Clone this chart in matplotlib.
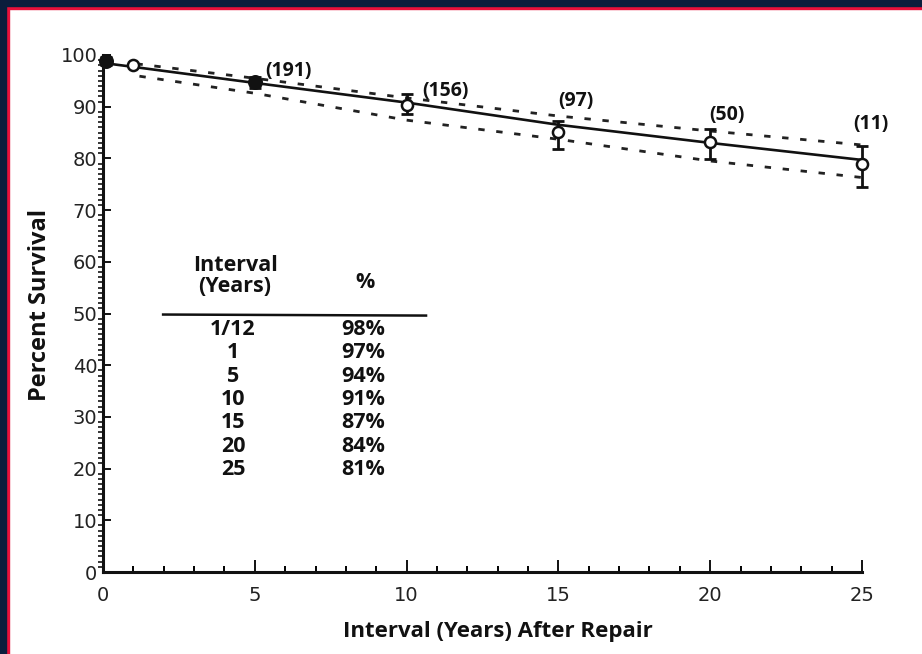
import matplotlib
matplotlib.use("Agg")
import matplotlib.pyplot as plt
from matplotlib.ticker import MultipleLocator
from matplotlib.patches import Rectangle

plt.rcParams['font.family'] = ['Open Sans', 'DejaVu Sans']

# ---- data ----
point_x = [1/12, 1, 5, 10, 15, 20, 25]
point_y = [98.8, 98.0, 94.7, 90.4, 85.2, 83.1, 78.9]
err_low = [0.8, 0.0, 1.0, 1.8, 3.4, 3.3, 4.5]
err_high = [0.8, 0.0, 1.0, 2.0, 2.0, 2.5, 3.5]
point_filled = [True, False, True, False, False, False, False]

fit_x = [1/12, 1, 5, 10, 15, 20, 25]
fit_y = [98.4, 97.7, 94.6, 90.8, 86.5, 83.0, 79.7]

upper_x = [1.1, 5, 10, 15, 20, 25]
upper_y = [98.3, 95.5, 91.7, 88.2, 85.3, 82.6]
lower_x = [1.2, 5, 10, 15, 20, 25]
lower_y = [95.9, 92.6, 87.4, 83.7, 79.5, 76.3]

count_x = [5, 10, 15, 20, 25]
count_labels = ["(191)", "(156)", "(97)", "(50)", "(11)"]

table_interval = ["1/12", "1", "5", "10", "15", "20", "25"]
table_percent = ["98%", "97%", "94%", "91%", "87%", "84%", "81%"]

x_ticks = [0, 5, 10, 15, 20, 25]
y_ticks = [0, 10, 20, 30, 40, 50, 60, 70, 80, 90, 100]

# ---- figure ----
W, H = 922, 654
fig = plt.figure(figsize=(W / 100, H / 100), dpi=100)
fig.patch.set_facecolor('white')

# frame: navy outer band and red inner line on top and left
navy = '#0b1d3c'
red = '#e8103a'
fig.patches.append(Rectangle((0, 0), 9 / W, 1, transform=fig.transFigure, color=red, zorder=0))
fig.patches.append(Rectangle((0, 1 - 9 / H), 1, 9 / H, transform=fig.transFigure, color=red, zorder=0))
fig.patches.append(Rectangle((0, 0), 6 / W, 1, transform=fig.transFigure, color=navy, zorder=1))
fig.patches.append(Rectangle((0, 1 - 6 / H), 1, 6 / H, transform=fig.transFigure, color=navy, zorder=1))

x0, x1 = 103, 862
y0, y1 = 572, 55
ax = fig.add_axes([x0 / W, (H - y0) / H, (x1 - x0) / W, (y0 - y1) / H])
ax.set_xlim(0, 25)
ax.set_ylim(0, 100)
ax.set_facecolor('none')
for s in ['top', 'right']:
    ax.spines[s].set_visible(False)
for s in ['left', 'bottom']:
    ax.spines[s].set_linewidth(2.2)
    ax.spines[s].set_color('#111111')

ax.set_xticks(x_ticks)
ax.set_yticks(y_ticks)
ax.xaxis.set_minor_locator(MultipleLocator(1))
ax.yaxis.set_minor_locator(MultipleLocator(1))
ax.tick_params(axis='x', which='major', direction='in', length=9, width=1.4, pad=10,
               labelsize=14, colors='#111111')
ax.tick_params(axis='x', which='minor', direction='in', length=4, width=1.4)
ax.tick_params(axis='y', which='major', direction='in', length=6, width=1.4, pad=4,
               labelsize=14, colors='#111111')
ax.tick_params(axis='y', which='minor', direction='out', length=3.5, width=1.1)
for lab in ax.get_xticklabels() + ax.get_yticklabels():
    lab.set_color('#222222')
    lab.set_family('DejaVu Sans')

# fitted line and confidence bands
ax.plot(fit_x, fit_y, color='#111111', lw=1.9, clip_on=False, zorder=3)
ax.plot(upper_x, upper_y, color='#222222', lw=2.0, linestyle=(0, (2.3, 4.2)), clip_on=False)
ax.plot(lower_x, lower_y, color='#222222', lw=2.0, linestyle=(0, (2.3, 4.2)), clip_on=False)

# points with error bars
for x, y, lo, hi, f in zip(point_x, point_y, err_low, err_high, point_filled):
    if lo > 0 or hi > 0:
        ax.errorbar([x], [y], yerr=[[lo], [hi]], fmt='none', ecolor='#111111',
                    elinewidth=2.0, capsize=4, capthick=2.0, clip_on=False, zorder=4)
    ax.plot([x], [y], marker='o', ms=9 if f else 8,
            mfc='#111111' if f else 'white', mec='#111111', mew=1.8,
            linestyle='none', clip_on=False, zorder=5)

# patient counts (label placement: x shift and height in data units)
count_dx = [0.34, 0.5, 0.0, -0.04, -0.3]
count_yv = [96.9, 93.0, 91.1, 88.4, 86.6]
for x, lab, dx, yv in zip(count_x, count_labels, count_dx, count_yv):
    ax.text(x + dx, yv, lab, ha='left', va='center', fontsize=14, fontweight='bold',
            color='#111111')

# inset table
ax.text(4.35, 57.3, "Interval\n(Years)", ha='center', va='center', fontsize=15.5,
        fontweight='bold', color='#111111', linespacing=1.0)
ax.text(8.63, 56.0, "%", ha='center', va='center', fontsize=15.5, fontweight='bold', color='#111111')
ax.plot([1.98, 10.64], [49.8, 49.6], color='#111111', lw=1.8)
row_y = [46.9, 42.4, 37.8, 33.3, 28.9, 24.2, 19.8]
for yv, iv, pv in zip(row_y, table_interval, table_percent):
    ax.text(4.28, yv, iv, ha='center', va='center', fontsize=15.5, fontweight='bold', color='#111111')
    ax.text(8.56, yv, pv, ha='center', va='center', fontsize=15.5, fontweight='bold', color='#111111')

# axis labels
fig.text(40 / W, (H - 305) / H, "Percent Survival", rotation=90, ha='center', va='center',
         fontsize=17, fontweight='bold', color='#111111')
fig.text(498 / W, (H - 632) / H, "Interval (Years) After Repair", ha='center', va='center',
         fontsize=16, fontweight='bold', color='#111111')

fig.savefig("out.png", dpi=100)
